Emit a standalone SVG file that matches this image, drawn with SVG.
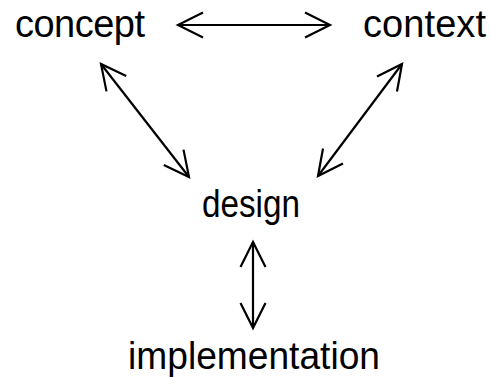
<svg xmlns="http://www.w3.org/2000/svg" width="491" height="378" viewBox="0 0 491 378">
<style>
.lbl{font-family:"Liberation Sans",Arial,sans-serif;font-size:38px;fill:#000}
.c{stroke:#000;stroke-width:2.2;fill:none}
</style>
<defs>
<marker id="ah" markerUnits="userSpaceOnUse" markerWidth="40" markerHeight="40" viewBox="-30 -20 40 40" refX="0" refY="0" orient="auto-start-reverse">
<path d="M-25,-12.5 L0,0 L-25,12.5" fill="none" stroke="#000" stroke-width="2.2" stroke-linejoin="miter"/>
</marker>
</defs>
<rect width="491" height="378" fill="#fff"/>
<g id="connectors">
<line class="c" x1="178" y1="25" x2="330" y2="25" marker-start="url(#ah)" marker-end="url(#ah)"/>
<line class="c" x1="101" y1="64" x2="189" y2="177" marker-start="url(#ah)" marker-end="url(#ah)"/>
<line class="c" x1="402" y1="64" x2="318" y2="176" marker-start="url(#ah)" marker-end="url(#ah)"/>
<line class="c" x1="253" y1="242" x2="253" y2="328" marker-start="url(#ah)" marker-end="url(#ah)"/>
</g>
<g id="concept"><text class="lbl" x="15" y="37" textLength="130">concept</text></g>
<g id="context"><text class="lbl" x="363" y="37" textLength="123">context</text></g>
<g id="design"><text class="lbl" x="202" y="217" textLength="98" lengthAdjust="spacingAndGlyphs">design</text></g>
<g id="implementation"><text class="lbl" x="128" y="369" textLength="252" lengthAdjust="spacingAndGlyphs">implementation</text></g>
</svg>
